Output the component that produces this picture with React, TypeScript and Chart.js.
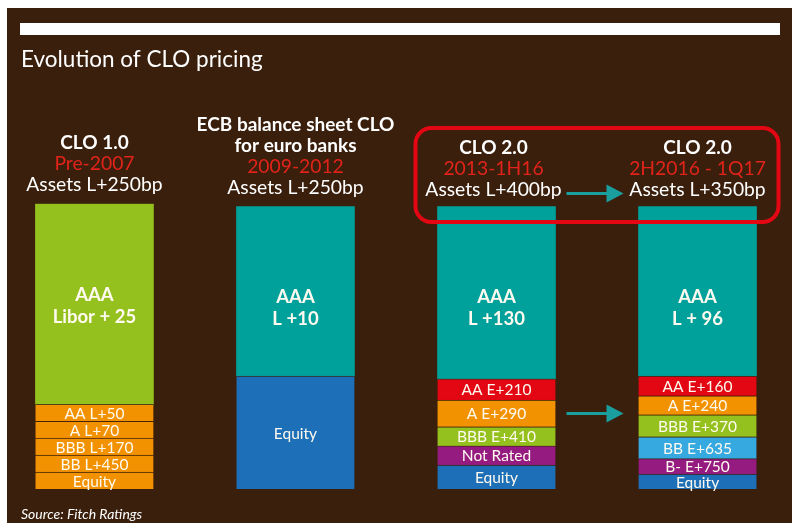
import React, { useEffect, useRef } from "react";
import { Chart, registerables } from "chart.js";

Chart.register(...registerables);

// ---- data ----
const categories = ["CLO 1.0", "ECB balance sheet CLO", "CLO 2.0 (2013-1H16)", "CLO 2.0 (2H2016-1Q17)"];
const headerLines = [["CLO 1.0"], ["ECB balance sheet CLO", "for euro banks"], ["CLO 2.0"], ["CLO 2.0"]];
const periods = ["Pre-2007", "2009-2012", "2013-1H16", "2H2016 - 1Q17"];
const assetSpreads = ["Assets L+250bp", "Assets L+250bp", "Assets L+400bp", "Assets L+350bp"];

// share of capital structure (%), bottom to top
const equity = [6, 40, 8.5, 5.25];
const notRated = [null, null, 6.75, null];
const bMinus = [null, null, null, 5.5];
const bb = [6, null, null, 7.75];
const bbb = [6, null, 6.75, 7.75];
const aTranche = [6, null, 9.5, 6.75];
const aa = [6, null, 7.5, 7];
const aaa = [71, 60, 61, 60];

const equityLabels = ["Equity", "Equity", "Equity", "Equity"];
const notRatedLabels = [null, null, "Not Rated", null];
const bMinusLabels = [null, null, null, "B- E+750"];
const bbLabels = ["BB L+450", null, null, "BB E+635"];
const bbbLabels = ["BBB L+170", null, "BBB E+410", "BBB E+370"];
const aLabels = ["A L+70", null, "A E+290", "A E+240"];
const aaLabels = ["AA L+50", null, "AA E+210", "AA E+160"];
const aaaLabels = [["AAA", "Libor + 25"], ["AAA", "L +10"], ["AAA", "L +130"], ["AAA", "L + 96"]];

const title = "Evolution of CLO pricing";
const source = "Source: Fitch Ratings";

// ---- colours ----
const BROWN = "#3a1f0c";
const GREEN = "#95c11f";
const ORANGE = "#f39200";
const TEAL = "#00a19a";
const BLUE = "#1d70b7";
const RED = "#e30613";
const PURPLE = "#951b81";
const LIGHTBLUE = "#36a9e1";
const HEAD_RED = "#e2231a";
const ARROW = "#1a9e9e";
const FONT = "Lato, 'Open Sans', sans-serif";

const trancheDefs = [
  { name: "Equity", data: equity, labels: equityLabels, colors: [ORANGE, BLUE, BLUE, BLUE] },
  { name: "Not Rated", data: notRated, labels: notRatedLabels, colors: [PURPLE, PURPLE, PURPLE, PURPLE] },
  { name: "B-", data: bMinus, labels: bMinusLabels, colors: [PURPLE, PURPLE, PURPLE, PURPLE] },
  { name: "BB", data: bb, labels: bbLabels, colors: [ORANGE, ORANGE, ORANGE, LIGHTBLUE] },
  { name: "BBB", data: bbb, labels: bbbLabels, colors: [ORANGE, GREEN, GREEN, GREEN] },
  { name: "A", data: aTranche, labels: aLabels, colors: [ORANGE, ORANGE, ORANGE, ORANGE] },
  { name: "AA", data: aa, labels: aaLabels, colors: [ORANGE, RED, RED, RED] },
  { name: "AAA", data: aaa, labels: aaaLabels, colors: [GREEN, TEAL, TEAL, TEAL] },
];

const decorPlugin = {
  id: "decor",
  beforeDraw(chart: any) {
    const ctx = chart.ctx;
    ctx.save();
    ctx.fillStyle = "#ffffff";
    ctx.fillRect(0, 0, chart.width, chart.height);
    ctx.fillStyle = BROWN;
    ctx.fillRect(7, 8, 785, 515);
    ctx.fillStyle = "#ffffff";
    ctx.fillRect(20, 23, 760, 12);
    ctx.font = `22.5px ${FONT}`;
    ctx.textAlign = "left";
    ctx.textBaseline = "alphabetic";
    ctx.fillText(title, 21, 67);
    ctx.font = `italic 14px ${FONT}`;
    ctx.fillText(source, 21, 519);
    ctx.restore();
  },
  afterDatasetsDraw(chart: any) {
    const ctx = chart.ctx;
    const xs = chart.scales.x;
    const aaaMeta = chart.getDatasetMeta(trancheDefs.length - 1);
    ctx.save();
    ctx.textAlign = "center";

    // headers
    categories.forEach((_, i) => {
      const el = aaaMeta.data[i];
      const cx = xs.getPixelForValue(i) + (i === 2 ? -3 : 0);
      const top = el.y;
      const s = i >= 2 ? 2 : 0;
      ctx.textBaseline = "alphabetic";
      ctx.fillStyle = "#ffffff";
      ctx.font = `19.3px ${FONT}`;
      ctx.fillText(assetSpreads[i], cx, top - 13 + s);
      ctx.fillStyle = HEAD_RED;
      ctx.fillText(periods[i], cx, top - 34 + s);
      ctx.fillStyle = "#ffffff";
      ctx.font = `bold 19px ${FONT}`;
      const lines = headerLines[i];
      lines.forEach((ln, k) => {
        ctx.fillText(ln, cx, top - 55 + s - (lines.length - 1 - k) * 21);
      });
    });

    // segment labels
    trancheDefs.forEach((t, di) => {
      const meta = chart.getDatasetMeta(di);
      meta.data.forEach((el: any, i: number) => {
        const lab = t.labels[i];
        if (!lab || t.data[i] == null) return;
        ctx.fillStyle = "#fffaf0";
        ctx.textBaseline = "middle";
        if (Array.isArray(lab)) {
          ctx.font = `bold 18.5px ${FONT}`;
          ctx.fillText(lab[0], el.x, el.y + 91);
          ctx.fillText(lab[1], el.x, el.y + 113);
        } else {
          ctx.font = `15.5px ${FONT}`;
          ctx.fillText(lab, el.x, (el.y + el.base) / 2 + 1);
        }
      });
    });

    // red rounded highlight around CLO 2.0 headers
    const b3 = aaaMeta.data[2];
    const b4 = aaaMeta.data[3];
    const left = b3.x - b3.width / 2 - 22;
    const right = b4.x + b4.width / 2 + 22;
    const top = 128;
    const bottom = b3.y + 15.5;
    ctx.strokeStyle = RED;
    ctx.lineWidth = 4;
    ctx.beginPath();
    ctx.roundRect(left, top, right - left, bottom - top, 16);
    ctx.stroke();

    // arrows
    const aMeta = chart.getDatasetMeta(5).data[2];
    const arrowYs = [b3.y - 13, (aMeta.y + aMeta.base) / 2];
    const x0 = b3.x + b3.width / 2 + 11;
    const x1 = b4.x - b4.width / 2 - 15;
    arrowYs.forEach((ay) => {
      ctx.strokeStyle = ARROW;
      ctx.fillStyle = ARROW;
      ctx.lineWidth = 3;
      ctx.beginPath();
      ctx.moveTo(x0, ay);
      ctx.lineTo(x1 - 12, ay);
      ctx.stroke();
      ctx.beginPath();
      ctx.moveTo(x1, ay);
      ctx.lineTo(x1 - 17, ay - 9);
      ctx.lineTo(x1 - 17, ay + 9);
      ctx.closePath();
      ctx.fill();
    });
    ctx.restore();
  },
};

export default function App() {
  const ref = useRef<HTMLCanvasElement | null>(null);
  useEffect(() => {
    if (!ref.current) return;
    const chart = new Chart(ref.current, {
      type: "bar",
      data: {
        datasets: trancheDefs.map((t) => ({
          label: t.name,
          data: t.data.map((v, i) => ({ x: i, y: v })),
          backgroundColor: t.colors,
          borderColor: "rgba(58,31,12,0.55)",
          borderWidth: t.name === "AAA" ? 0 : { top: 1, bottom: 0, left: 0, right: 0 },
          borderSkipped: false,
          barThickness: 118,
        })),
      } as any,
      options: {
        animation: false,
        responsive: false,
        devicePixelRatio: 1,
        layout: { padding: { left: 7, right: 8, top: 203.7, bottom: 40 } },
        scales: {
          x: { type: "linear", min: -0.435, max: 3.47, offset: false, stacked: true, display: false },
          y: { min: 0, max: 101, stacked: true, display: false },
        },
        plugins: { legend: { display: false }, tooltip: { enabled: false } },
      } as any,
      plugins: [decorPlugin],
    });
    return () => chart.destroy();
  }, []);
  return (
    <div style={{ position: "fixed", left: 0, top: 0, width: 800, height: 529 }}>
      <canvas ref={ref} width={800} height={529} style={{ width: 800, height: 529 }} />
    </div>
  );
}
